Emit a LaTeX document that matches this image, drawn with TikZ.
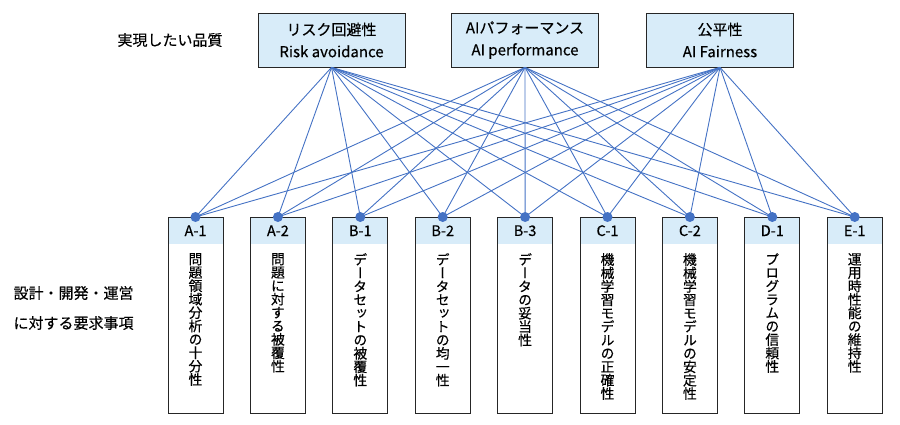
\documentclass[tikz,border=0pt]{standalone}
\usepackage{fontspec}
\setmainfont[FakeBold=0.4]{Noto Sans CJK JP}
\newfontfamily\tatefont[RawFeature=+vert,FakeBold=0.4]{Noto Sans CJK JP}
\usetikzlibrary{positioning}
\definecolor{linkblue}{RGB}{68,114,196}
\definecolor{headblue}{RGB}{216,236,249}

\ExplSyntaxOn
\NewDocumentCommand \tate { m }
  {
    \tl_set:Nx \l_tmpa_tl {#1}
    \vbox
      {
        \tatefont \baselineskip=13.4pt \lineskiplimit=-100pt \lineskip=0pt
        \tl_map_inline:Nn \l_tmpa_tl { \hbox_to_wd:nn {1em} { \hfil ##1 \hfil } }
      }
  }
\ExplSyntaxOff

\begin{document}
\begin{tikzpicture}
[x=1pt,y=-1pt,
 quality/.style={draw=black!85,thick,fill=headblue,minimum width=147pt,minimum height=54pt,align=center,font=\fontsize{15}{22}\selectfont},
 reqbox/.style={draw=black!85,thick,minimum width=55pt,minimum height=196pt,anchor=north},
 head/.style={fill=headblue,minimum width=55pt,minimum height=27pt,inner sep=0pt,anchor=north,font=\fontsize{14.5}{14}\selectfont},
 bullet/.style={circle,fill=linkblue,inner sep=0pt,minimum size=10pt},
 link/.style={linkblue,line width=0.9pt}]
\useasboundingbox (0,0) rectangle (900,425);

\node[font=\fontsize{15}{20}\selectfont] (goal) at (170,40) {実現したい品質};
\node[font=\fontsize{15}{30}\selectfont,align=left,anchor=west] (req) at (10,308) {設計・開発・運営\\に対する要求事項};

\node[quality] (q1) at (331.5,40) {リスク回避性\\Risk avoidance};
\node[quality] (q2) at (525,40) {AIパフォーマンス\\AI performance};
\node[quality] (q3) at (720,40) {公平性\\AI Fairness};

% requirement columns
\foreach \lab/\txt [count=\i] in {A-1/問題領域分析の十分性, A-2/問題に対する被覆性, B-1/データセットの被覆性, B-2/データセットの均一性, B-3/データの妥当性, C-1/機械学習モデルの正確性, C-2/機械学習モデルの安定性, D-1/プログラムの信頼性, E-1/運用時性能の維持性}
{
  \node[head] (h\i) at (113.1+82.4*\i,217) {\lab};
  \node[reqbox] (r\i) at (113.1+82.4*\i,217) {};
  \node[anchor=north,inner sep=0pt,font=\fontsize{13.8}{13.5}\selectfont] (t\i) at (113.1+82.4*\i,253) {\tate{\txt}};
}

\foreach \j in {1,2,3}
  \foreach \i in {1,...,9}
    \draw[link] (q\j.south) -- (r\i.north);

\foreach \i in {1,...,9}
  \node[bullet] (d\i) at (r\i.north) {};
\end{tikzpicture}
\end{document}
